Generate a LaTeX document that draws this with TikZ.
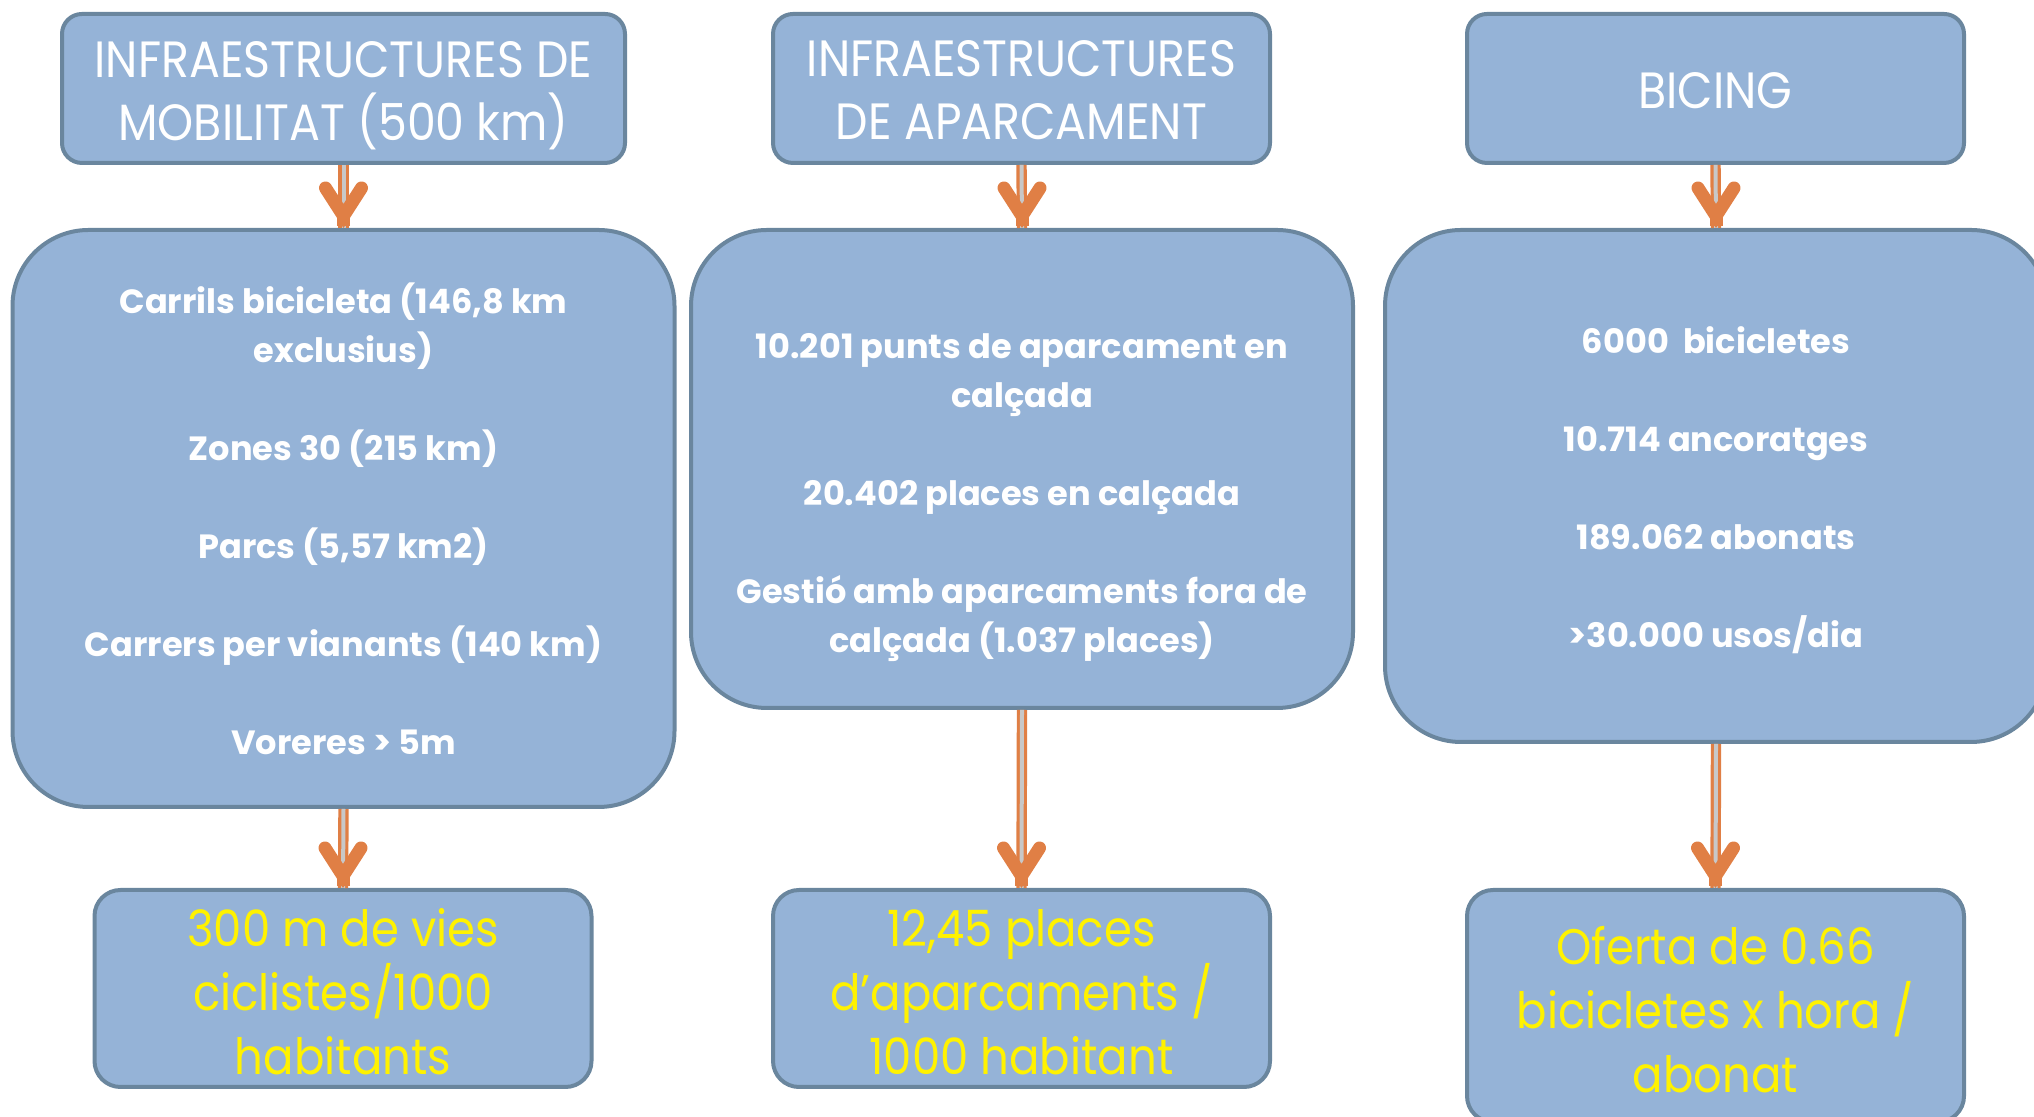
\documentclass[tikz,border=0pt]{standalone}
\usepackage{fontspec}
\setmainfont{Poppins}[FakeStretch=0.9, BoldFeatures={FakeStretch=1}]
\usetikzlibrary{arrows.meta}

\definecolor{boxfill}{RGB}{149,179,215}
\definecolor{boxline}{RGB}{106,134,158}
\definecolor{arroworange}{RGB}{224,127,69}
\definecolor{shaftgap}{RGB}{200,200,200}

% lifts the first line of a box so the text sits a little lower
\newcommand\padtop[1]{\rule{0pt}{#1}}

\begin{document}
\begin{tikzpicture}[x=0.5pt, y=0.5pt,
    blk/.style = {draw=boxline, fill=boxfill, line width=2pt, align=center, inner sep=0pt},
    title/.style = {blk, rounded corners=10pt, minimum height=74.5pt, text=white,
                    font=\fontsize{25.5}{31.5}\selectfont},
    facts/.style = {blk, rounded corners=38pt, minimum width=331pt, text=white,
                    font=\bfseries\fontsize{16.8}{24.5}\selectfont},
    result/.style = {blk, rounded corners=13pt, minimum width=248.5pt, text=yellow,
                     font=\fontsize{25}{32}\selectfont},
    shaft/.style = {draw=arroworange, line width=1.6pt, double=shaftgap, double distance=2pt},
    head/.style = {draw=arroworange, line width=6.5pt,
                   -{Straight Barb[length=14pt, width=18pt, line cap=round, line join=miter]}}]
\useasboundingbox (0,0) rectangle (2034,1117);

% top row
\node[title, minimum width=281.5pt] (mob) at (343.5,1028.5) {\padtop{25.5pt}INFRAESTRUCTURES DE\\MOBILITAT (500 km)};
\node[title, minimum width=248.5pt] (apa) at (1021.5,1028.5) {\padtop{20pt}INFRAESTRUCTURES\\DE APARCAMENT};
\node[title, minimum width=248.5pt] (bic) at (1715.5,1028.5) {\padtop{20pt}BICING};

% middle row
\node[facts, minimum height=288.5pt] (mobdata) at (343.5,598.5)
    {Carrils bicicleta (146,8 km\\exclusius)\\[24.5pt]Zones 30 (215 km)\\[24.5pt]Parcs (5,57 km2)\\[24.5pt]Carrers per vianants (140 km)\\[24.5pt]Voreres > 5m};
\node[facts, minimum height=239pt] (apadata) at (1022,648)
    {\mbox{}\\[17pt]10.201 punts de aparcament en\\calçada\\[24.5pt]20.402 places en calçada\\[24.5pt]Gestió amb aparcaments fora de\\calçada (1.037 places)};
\node[facts, minimum height=256pt] (bicdata) at (1716,631)
    {\padtop{17.5pt}6000~~bicicletes\\[24.5pt]10.714 ancoratges\\[24.5pt]189.062 abonats\\[24.5pt]>30.000 usos/dia};

% bottom row
\node[result, minimum height=98.5pt] (mobres) at (343,128.5) {\padtop{22.5pt}300 m de vies\\ciclistes/1000\\habitants};
\node[result, minimum height=98.5pt] (apares) at (1021.5,128.5) {\padtop{22.5pt}12,45 places\\d’aparcaments /\\1000 habitant};
\node[result, minimum height=116pt] (bicres) at (1715.5,111) {\padtop{22.5pt}Oferta de 0.66\\bicicletes x hora /\\abonat};

% arrows
\foreach \a/\b in {mob/mobdata, apa/apadata, bic/bicdata, mobdata/mobres, apadata/apares, bicdata/bicres} {
  \draw[shaft] (\a.south) -- (\b.north);
  \draw[head] ([yshift=1pt]\b.north) -- (\b.north);
}
\end{tikzpicture}
\end{document}
